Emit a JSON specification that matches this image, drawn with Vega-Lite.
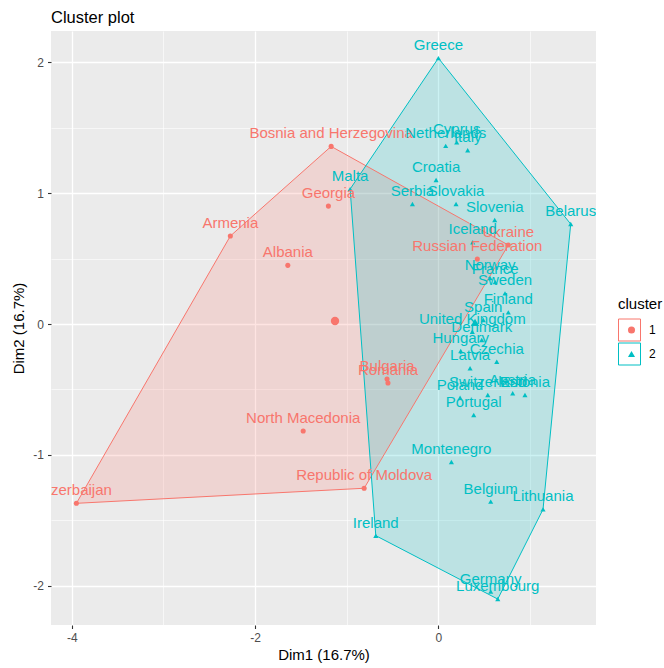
{
  "$schema": "https://vega.github.io/schema/vega-lite/v6.json",
  "width": 545,
  "height": 594,
  "autosize": {"type": "none"},
  "padding": {"left": 51, "top": 31, "right": 68, "bottom": 43},
  "background": "white",
  "title": {
    "text": "Cluster plot",
    "anchor": "start",
    "frame": "group",
    "font": "Liberation Sans",
    "fontSize": 16.5,
    "fontWeight": "normal",
    "color": "#000000",
    "baseline": "alphabetic",
    "offset": 10,
    "dy": 18
  },
  "config": {
    "font": "Liberation Sans",
    "view": {"fill": "#EBEBEB", "stroke": null},
    "axis": {
      "domain": false,
      "gridColor": "#FFFFFF",
      "tickColor": "#333333",
      "tickSize": 3.5,
      "tickWidth": 1.1,
      "labelColor": "#4D4D4D",
      "labelFontSize": 12,
      "labelPadding": 4,
      "titleColor": "#000000",
      "titleFontSize": 15,
      "titleFontWeight": "normal"
    }
  },
  "datasets": {
    "countries": [
      {"name": "Bosnia and Herzegovina", "cluster": "1", "dim1": -1.17, "dim2": 1.356},
      {"name": "Georgia", "cluster": "1", "dim1": -1.2, "dim2": 0.9},
      {"name": "Armenia", "cluster": "1", "dim1": -2.27, "dim2": 0.672},
      {"name": "Albania", "cluster": "1", "dim1": -1.643, "dim2": 0.448},
      {"name": "Azerbaijan", "cluster": "1", "dim1": -3.95, "dim2": -1.369},
      {"name": "North Macedonia", "cluster": "1", "dim1": -1.475, "dim2": -0.817},
      {"name": "Republic of Moldova", "cluster": "1", "dim1": -0.81, "dim2": -1.254},
      {"name": "Bulgaria", "cluster": "1", "dim1": -0.56, "dim2": -0.42},
      {"name": "Romania", "cluster": "1", "dim1": -0.55, "dim2": -0.45},
      {"name": "Russian Federation", "cluster": "1", "dim1": 0.425, "dim2": 0.496},
      {"name": "Ukraine", "cluster": "1", "dim1": 0.763, "dim2": 0.603},
      {"name": "Greece", "cluster": "2", "dim1": 0.0, "dim2": 2.03},
      {"name": "Netherlands", "cluster": "2", "dim1": 0.08, "dim2": 1.36},
      {"name": "Cyprus", "cluster": "2", "dim1": 0.2, "dim2": 1.387},
      {"name": "Italy", "cluster": "2", "dim1": 0.32, "dim2": 1.326},
      {"name": "Croatia", "cluster": "2", "dim1": -0.025, "dim2": 1.1},
      {"name": "Serbia", "cluster": "2", "dim1": -0.283, "dim2": 0.916},
      {"name": "Slovakia", "cluster": "2", "dim1": 0.193, "dim2": 0.916},
      {"name": "Malta", "cluster": "2", "dim1": -0.963, "dim2": 1.03},
      {"name": "Slovenia", "cluster": "2", "dim1": 0.615, "dim2": 0.794},
      {"name": "Belarus", "cluster": "2", "dim1": 1.444, "dim2": 0.763},
      {"name": "Iceland", "cluster": "2", "dim1": 0.375, "dim2": 0.624},
      {"name": "Norway", "cluster": "2", "dim1": 0.564, "dim2": 0.351},
      {"name": "France", "cluster": "2", "dim1": 0.62, "dim2": 0.32},
      {"name": "Sweden", "cluster": "2", "dim1": 0.727, "dim2": 0.234},
      {"name": "Finland", "cluster": "2", "dim1": 0.763, "dim2": 0.089},
      {"name": "Spain", "cluster": "2", "dim1": 0.49, "dim2": 0.031},
      {"name": "United Kingdom", "cluster": "2", "dim1": 0.37, "dim2": -0.059},
      {"name": "Denmark", "cluster": "2", "dim1": 0.473, "dim2": -0.122},
      {"name": "Hungary", "cluster": "2", "dim1": 0.244, "dim2": -0.206},
      {"name": "Czechia", "cluster": "2", "dim1": 0.637, "dim2": -0.288},
      {"name": "Latvia", "cluster": "2", "dim1": 0.346, "dim2": -0.338},
      {"name": "Poland", "cluster": "2", "dim1": 0.237, "dim2": -0.563},
      {"name": "Switzerland", "cluster": "2", "dim1": 0.539, "dim2": -0.542},
      {"name": "Austria", "cluster": "2", "dim1": 0.811, "dim2": -0.529},
      {"name": "Estonia", "cluster": "2", "dim1": 0.945, "dim2": -0.542},
      {"name": "Portugal", "cluster": "2", "dim1": 0.386, "dim2": -0.695},
      {"name": "Montenegro", "cluster": "2", "dim1": 0.142, "dim2": -1.053},
      {"name": "Belgium", "cluster": "2", "dim1": 0.571, "dim2": -1.356},
      {"name": "Lithuania", "cluster": "2", "dim1": 1.142, "dim2": -1.415},
      {"name": "Ireland", "cluster": "2", "dim1": -0.683, "dim2": -1.616},
      {"name": "Germany", "cluster": "2", "dim1": 0.571, "dim2": -2.043},
      {"name": "Luxembourg", "cluster": "2", "dim1": 0.648, "dim2": -2.1}
    ],
    "centers": [
      {"cluster": "1", "dim1": -1.128, "dim2": 0.023},
      {"cluster": "2", "dim1": 0.4, "dim2": 0.013}
    ],
    "hulls": [
      {"group": "1", "ord": 0, "dim1": -3.95, "dim2": -1.369},
      {"group": "1", "ord": 1, "dim1": -2.27, "dim2": 0.672},
      {"group": "1", "ord": 2, "dim1": -1.17, "dim2": 1.356},
      {"group": "1", "ord": 3, "dim1": 0.763, "dim2": 0.603},
      {"group": "1", "ord": 4, "dim1": -0.81, "dim2": -1.254},
      {"group": "1", "ord": 5, "dim1": -3.95, "dim2": -1.369},
      {"group": "2", "ord": 0, "dim1": 0.0, "dim2": 2.03},
      {"group": "2", "ord": 1, "dim1": 1.444, "dim2": 0.763},
      {"group": "2", "ord": 2, "dim1": 1.142, "dim2": -1.415},
      {"group": "2", "ord": 3, "dim1": 0.648, "dim2": -2.1},
      {"group": "2", "ord": 4, "dim1": -0.683, "dim2": -1.616},
      {"group": "2", "ord": 5, "dim1": -0.963, "dim2": 1.03},
      {"group": "2", "ord": 6, "dim1": 0.0, "dim2": 2.03}
    ]
  },
  "encoding": {
    "x": {
      "field": "dim1",
      "type": "quantitative",
      "scale": {"domain": [-4.227, 1.72], "nice": false, "zero": false},
      "axis": {
        "title": "Dim1 (16.7%)",
        "values": [-4, -3, -2, -1, 0, 1],
        "labelExpr": "datum.value % 2 === 0 ? '' + datum.value : ''",
        "tickOpacity": {"condition": {"test": "datum.value % 2 === 0", "value": 1}, "value": 0},
        "gridWidth": {"condition": {"test": "datum.value % 2 === 0", "value": 1.3}, "value": 0.6},
        "titlePadding": 4
      }
    },
    "y": {
      "field": "dim2",
      "type": "quantitative",
      "scale": {"domain": [-2.298, 2.237], "nice": false, "zero": false},
      "axis": {
        "title": "Dim2 (16.7%)",
        "values": [-2, -1.5, -1, -0.5, 0, 0.5, 1, 1.5, 2],
        "labelExpr": "datum.value % 1 === 0 ? '' + datum.value : ''",
        "tickOpacity": {"condition": {"test": "datum.value % 1 === 0", "value": 1}, "value": 0},
        "gridWidth": {"condition": {"test": "datum.value % 1 === 0", "value": 1.3}, "value": 0.6},
        "titlePadding": 6
      }
    }
  },
  "layer": [
    {
      "data": {"name": "hulls"},
      "transform": [{"filter": "datum.group === '1'"}],
      "mark": {"type": "line", "fill": "#F8766D", "fillOpacity": 0.2, "strokeOpacity": 0, "clip": true},
      "encoding": {
        "order": {"field": "ord", "type": "quantitative"}
      }
    },
    {
      "data": {"name": "hulls"},
      "transform": [{"filter": "datum.group === '2'"}],
      "mark": {"type": "line", "fill": "#00BFC4", "fillOpacity": 0.2, "strokeOpacity": 0, "clip": true},
      "encoding": {
        "order": {"field": "ord", "type": "quantitative"}
      }
    },
    {
      "data": {"name": "hulls"},
      "mark": {"type": "line", "strokeWidth": 1, "clip": true},
      "encoding": {
        "order": {"field": "ord", "type": "quantitative"},
        "stroke": {
          "field": "group",
          "type": "nominal",
          "scale": {"range": ["#F8766D", "#00BFC4"]},
          "legend": {
            "title": "cluster",
            "orient": "none",
            "legendX": 567,
            "legendY": 266,
            "symbolType": "square",
            "symbolSize": 484,
            "symbolStrokeWidth": 1,
            "clipHeight": 24,
            "rowPadding": 0,
            "titleFontSize": 15,
            "titleFontWeight": "normal",
            "titleColor": "#000000",
            "titlePadding": 6,
            "labelFontSize": 12,
            "labelColor": "#000000",
            "labelOffset": 8
          }
        }
      }
    },
    {
      "data": {"name": "countries"},
      "mark": {"type": "point", "filled": true, "opacity": 1, "size": 26, "clip": true},
      "encoding": {
        "color": {
          "field": "cluster",
          "type": "nominal",
          "scale": {"domain": ["1", "2"], "range": ["#F8766D", "#00BFC4"]},
          "legend": {
            "title": "cluster",
            "orient": "none",
            "legendX": 567,
            "legendY": 266,
            "symbolSize": 50,
            "symbolOffset": 7.5,
            "clipHeight": 24,
            "rowPadding": 0,
            "titleFontSize": 15,
            "titleFontWeight": "normal",
            "titleOpacity": 0,
            "titlePadding": 6,
            "labelFontSize": 12,
            "labelOpacity": 0,
            "labelOffset": 8
          }
        },
        "shape": {
          "field": "cluster",
          "type": "nominal",
          "scale": {"domain": ["1", "2"], "range": ["circle", "triangle-up"]}
        }
      }
    },
    {
      "data": {"name": "countries"},
      "mark": {"type": "text", "fontSize": 15, "baseline": "alphabetic", "dy": -8, "clip": true},
      "encoding": {
        "text": {"field": "name"},
        "color": {"field": "cluster", "type": "nominal"}
      }
    },
    {
      "data": {"name": "centers"},
      "mark": {"type": "point", "filled": true, "opacity": 1, "size": 70, "clip": true},
      "encoding": {
        "color": {"field": "cluster", "type": "nominal"},
        "shape": {"field": "cluster", "type": "nominal"}
      }
    }
  ]
}
